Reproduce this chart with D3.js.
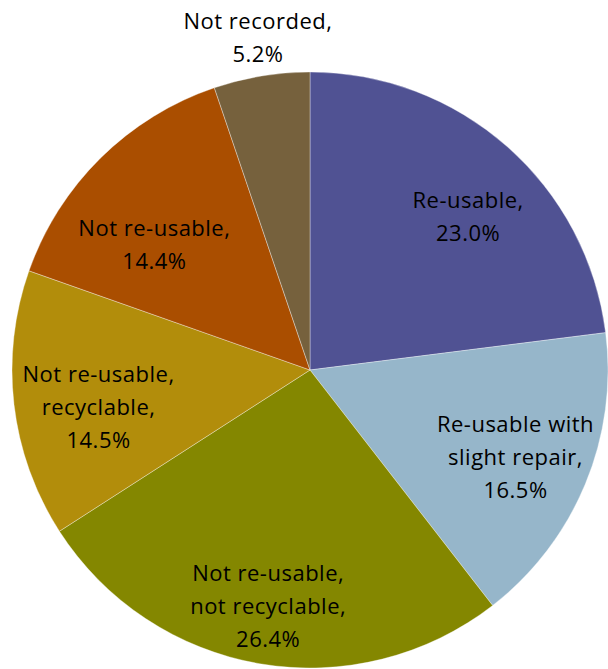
<!DOCTYPE html>
<html>
<head>
<meta charset="utf-8">
<script src="https://cdn.jsdelivr.net/npm/d3@7"></script>
<style>
  html, body { margin: 0; padding: 0; background: #fff; }
  svg { display: block; }
</style>
</head>
<body>
<svg id="chart" width="608" height="669"></svg>
<script>
// Condition of returned items, share of total (%)
const categories = [
  "Re-usable",
  "Re-usable with slight repair",
  "Not re-usable, not recyclable",
  "Not re-usable, recyclable",
  "Not re-usable",
  "Not recorded"
];
const values = [23.0, 16.5, 26.4, 14.5, 14.4, 5.2];
// Label text, broken into lines as drawn
const labelLines = [
  ["Re-usable,", "23.0%"],
  ["Re-usable with", "slight repair,", "16.5%"],
  ["Not re-usable,", "not recyclable,", "26.4%"],
  ["Not re-usable,", "recyclable,", "14.5%"],
  ["Not re-usable,", "14.4%"],
  ["Not recorded,", "5.2%"]
];
const colors = ["#505293", "#96B6CA", "#848700", "#B28D0B", "#AA4E00", "#76613D"];

// Label placement: anchor radius (inside or outside the pie) plus a small nudge
const labelRadius = [230, 230, 230, 230, 230, 320];
const labelNudge = [[6, 19], [-7, -1], [-3, 10], [17, 11], [6, 38], [0, -16]];

const cx = 310, cy = 370, R = 298;

const svg = d3.select("#chart");
const g = svg.append("g").attr("transform", `translate(${cx},${cy})`);

const data = categories.map((c, i) => ({ name: c, value: values[i], lines: labelLines[i], color: colors[i] }));

const pie = d3.pie().value(d => d.value).sort(null);
const arcs = pie(data);
const arc = d3.arc().innerRadius(0).outerRadius(R);

g.selectAll("path.slice")
  .data(arcs)
  .join("path")
  .attr("class", "slice")
  .attr("d", arc)
  .attr("fill", d => d.data.color)
  .attr("stroke", "#ffffff")
  .attr("stroke-opacity", 0.7)
  .attr("stroke-width", 0.5);

const lineH = 33;
const labels = g.selectAll("text.lbl")
  .data(arcs)
  .join("text")
  .attr("class", "lbl")
  .attr("text-anchor", "middle")
  .attr("font-family", "'Open Sans', Lato, sans-serif")
  .attr("font-size", 22)
  .attr("letter-spacing", 0.5)
  .attr("fill", "#000")
  .attr("transform", (d, i) => {
    const r = labelRadius[i];
    const c = d3.arc().innerRadius(r).outerRadius(r).centroid(d);
    return `translate(${c[0] + labelNudge[i][0]},${c[1] + labelNudge[i][1]})`;
  });

labels.each(function(d) {
  const t = d3.select(this);
  const n = d.data.lines.length;
  d.data.lines.forEach((ln, k) => {
    t.append("tspan")
      .attr("x", 0)
      .attr("y", (k - (n - 1) / 2) * lineH)
      .attr("dy", "0.35em")
      .text(ln);
  });
});
</script>
</body>
</html>
